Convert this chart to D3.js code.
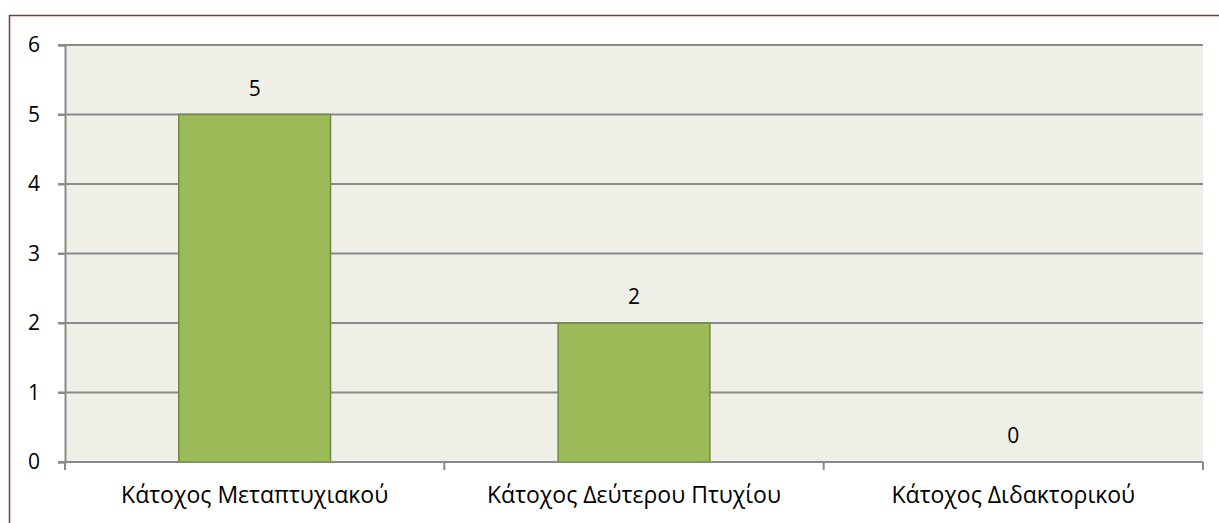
<!DOCTYPE html>
<html>
<head>
<meta charset="utf-8">
<script src="https://cdn.jsdelivr.net/npm/d3@7"></script>
<style>
  body { margin: 0; background: #fff; }
  text { font-family: "Open Sans", sans-serif; fill: #000; }
</style>
</head>
<body>
<div id="chart"></div>
<script>
const categories = ["Κάτοχος Μεταπτυχιακού", "Κάτοχος Δεύτερου Πτυχίου", "Κάτοχος Διδακτορικού"];
const values = [5, 2, 0];
const yTicks = [0, 1, 2, 3, 4, 5, 6];

const W = 1219, H = 523;
const margin = { top: 45, right: 16, bottom: 61, left: 65 },
  width = W - margin.left - margin.right,
  height = H - margin.top - margin.bottom;

const root = d3.select("#chart").append("svg")
  .attr("width", W).attr("height", H);

// outer frame (only top and left visible in the picture)
root.append("path")
  .attr("d", "M9.5," + H + "V15.5H" + W)
  .attr("fill", "none")
  .attr("stroke", "#7b3b3b")
  .attr("stroke-width", 1.5);

const svg = root.append("g")
  .attr("transform", "translate(" + margin.left + "," + margin.top + ")");

const x = d3.scaleBand().domain(categories).range([0, width]);
const y = d3.scaleLinear().domain([0, 6]).range([height, 0]);

svg.append("rect")
  .attr("width", width).attr("height", height)
  .attr("fill", "#efefe8");

// gridlines
svg.append("g")
  .selectAll("line")
  .data(yTicks.filter((d) => d > 0))
  .enter()
  .append("line")
  .attr("x1", -7).attr("x2", width)
  .attr("y1", (d) => y(d)).attr("y2", (d) => y(d))
  .attr("stroke", "#8a8a8a")
  .attr("stroke-width", 2);

// bars, Excel-like gap width 150%
const barW = x.bandwidth() / 2.5;
svg.append("g")
  .selectAll("rect")
  .data(values)
  .enter()
  .append("rect")
  .attr("x", (d, i) => x(categories[i]) + (x.bandwidth() - barW) / 2)
  .attr("y", (d) => y(d))
  .attr("width", barW)
  .attr("height", (d) => height - y(d))
  .attr("fill", "#9bbb59")
  .attr("stroke", "#71893f")
  .attr("stroke-width", 1.5)
  .style("display", (d) => (d > 0 ? null : "none"));

// value labels
svg.append("g")
  .selectAll("text")
  .data(values)
  .enter()
  .append("text")
  .attr("x", (d, i) => x(categories[i]) + x.bandwidth() / 2)
  .attr("y", (d) => y(d) - 19)
  .attr("text-anchor", "middle")
  .style("font-size", "21px")
  .text((d) => d);

// y axis
const yAxis = svg.append("g")
  .call(d3.axisLeft(y).tickValues(yTicks).tickFormat(d3.format("d")).tickSize(7).tickPadding(18));
yAxis.select(".domain").attr("stroke", "#8a8a8a").attr("stroke-width", 2);
yAxis.selectAll(".tick line").attr("stroke", "#8a8a8a").attr("stroke-width", 2);
yAxis.selectAll(".tick text")
  .style("font-size", "21px")
  .style("font-family", "Open Sans")
  .attr("fill", "#000");

// x axis with ticks at category boundaries
const xAxis = svg.append("g")
  .attr("transform", "translate(0," + height + ")");
xAxis.append("line")
  .attr("x1", -7).attr("x2", width)
  .attr("stroke", "#8a8a8a").attr("stroke-width", 2);
xAxis.selectAll(".bt")
  .data(categories.concat([null]))
  .enter()
  .append("line")
  .attr("class", "bt")
  .attr("x1", (d) => (d ? x(d) : width))
  .attr("x2", (d) => (d ? x(d) : width))
  .attr("y1", 0).attr("y2", 8)
  .attr("stroke", "#8a8a8a").attr("stroke-width", 2);
xAxis.selectAll(".cat")
  .data(categories)
  .enter()
  .append("text")
  .attr("class", "cat")
  .attr("x", (d) => x(d) + x.bandwidth() / 2)
  .attr("y", 41)
  .attr("text-anchor", "middle")
  .style("font-size", "23px")
  .text((d) => d);
</script>
</body>
</html>
